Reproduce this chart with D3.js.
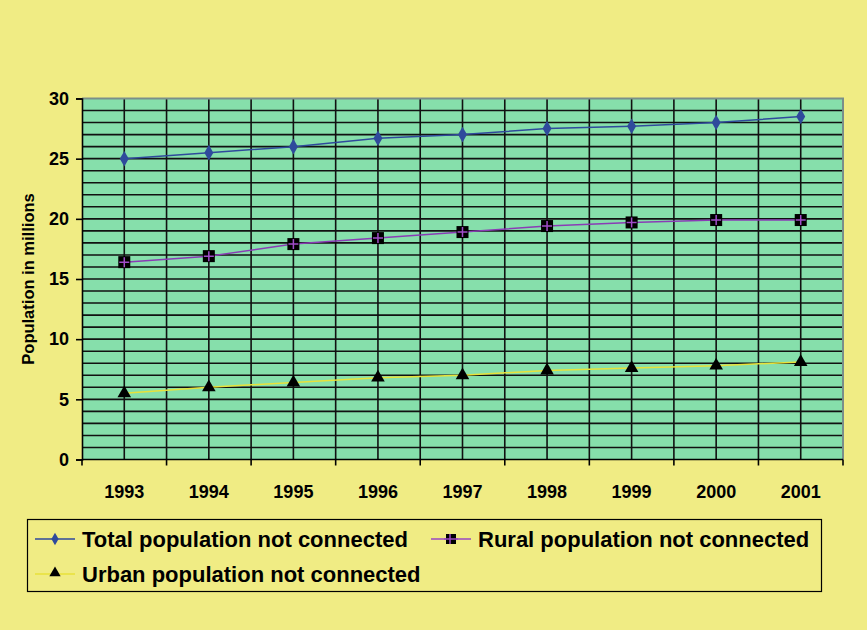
<!DOCTYPE html>
<html>
<head>
<meta charset="utf-8">
<script src="https://cdn.jsdelivr.net/npm/d3@7"></script>
<style>
  body { margin: 0; background: #f0ec84; }
  svg { display: block; }
  text { font-family: Arial, "Liberation Sans", sans-serif; font-weight: bold; }
</style>
</head>
<body>
<script>
    var years = ["1993","1994","1995","1996","1997","1998","1999","2000","2001"];
    var totalPop = [25, 25.5, 26, 26.7, 27, 27.5, 27.7, 28, 28.5];
    var ruralPop = [16.4, 16.9, 17.9, 18.4, 18.9, 19.4, 19.7, 19.9, 19.9];
    var urbanPop = [5.5, 6, 6.4, 6.8, 7, 7.4, 7.6, 7.8, 8.1];
    var yTicks = [0, 5, 10, 15, 20, 25, 30];
    var seriesNames = ["Total population not connected", "Rural population not connected", "Urban population not connected"];

    var W = 867, H = 630;
    var plotL = 82, plotR = 843, plotT = 98.5, plotB = 459.5;

    var svg = d3.select("body").append("svg")
                .attr("width", W)
                .attr("height", H);

    svg.append("rect")
       .attr("x", 0).attr("y", 0).attr("width", W).attr("height", H)
       .attr("fill", "#f0ec84");

    var x = d3.scaleBand().domain(years).range([plotL, plotR]);
    var y = d3.scaleLinear().domain([0, 30]).range([plotB, plotT]);

    // plot background
    svg.append("rect")
       .attr("x", plotL).attr("y", plotT)
       .attr("width", plotR - plotL).attr("height", plotB - plotT)
       .attr("fill", "#86dfab");

    // horizontal grid every 1
    svg.append("g").selectAll("line")
       .data(d3.range(1, 30))
       .enter().append("line")
       .attr("x1", plotL).attr("x2", plotR)
       .attr("y1", function(d) { return y(d); })
       .attr("y2", function(d) { return y(d); })
       .attr("stroke", "#111").attr("stroke-width", 1.6);

    // vertical grid at category centres and boundaries
    var vlines = [];
    years.forEach(function(d, i) {
        vlines.push(x(d) + x.bandwidth() / 2);
        if (i > 0) vlines.push(x(d));
    });
    svg.append("g").selectAll("line")
       .data(vlines)
       .enter().append("line")
       .attr("x1", function(d) { return d; }).attr("x2", function(d) { return d; })
       .attr("y1", plotT).attr("y2", plotB)
       .attr("stroke", "#111").attr("stroke-width", 1.6);

    // grey frame top / right
    svg.append("path")
       .attr("d", "M" + plotL + "," + plotT + "H" + plotR + "V" + plotB)
       .attr("fill", "none").attr("stroke", "#7a8f8a").attr("stroke-width", 2);

    // axes
    var yAxis = d3.axisLeft(y).tickValues(yTicks).tickSize(6).tickPadding(7);
    var gy = svg.append("g").attr("transform", "translate(" + plotL + ",0)").call(yAxis);
    gy.select(".domain").attr("stroke", "#000").attr("stroke-width", 1.6);
    gy.selectAll(".tick line").attr("stroke", "#000").attr("stroke-width", 1.6);
    gy.selectAll("text").attr("font-size", 18).attr("fill", "#000")
      .style("font-family", "Arial, 'Liberation Sans', sans-serif").style("font-weight", "bold");

    var gx = svg.append("g").attr("transform", "translate(0," + plotB + ")");
    gx.append("line").attr("x1", plotL).attr("x2", plotR).attr("stroke", "#000").attr("stroke-width", 1.6);
    gx.selectAll(".bt")
      .data(years.map(function(d) { return x(d); }).concat([plotR]))
      .enter().append("line")
      .attr("x1", function(d) { return d; }).attr("x2", function(d) { return d; })
      .attr("y1", 0).attr("y2", 6)
      .attr("stroke", "#000").attr("stroke-width", 1.6);
    gx.selectAll("text")
      .data(years)
      .enter().append("text")
      .attr("x", function(d) { return x(d) + x.bandwidth() / 2; })
      .attr("y", 38)
      .attr("text-anchor", "middle")
      .attr("font-size", 18)
      .text(function(d) { return d; });

    svg.append("text")
       .attr("transform", "translate(34," + ((plotT + plotB) / 2) + ") rotate(-90)")
       .attr("text-anchor", "middle")
       .attr("font-size", 16.5)
       .text("Population in millions");

    var cx = function(d, i) { return x(years[i]) + x.bandwidth() / 2; };
    var line = d3.line().x(cx).y(function(d) { return y(d); });

    // urban
    svg.append("path").datum(urbanPop).attr("d", line)
       .attr("fill", "none").attr("stroke", "#e8e23a").attr("stroke-width", 1.5);
    svg.append("g").selectAll("path")
       .data(urbanPop).enter().append("path")
       .attr("d", d3.symbol().type(d3.symbolTriangle).size(80))
       .attr("transform", function(d, i) { return "translate(" + cx(d, i) + "," + y(d) + ")"; })
       .attr("fill", "#000");

    // rural
    svg.append("path").datum(ruralPop).attr("d", line)
       .attr("fill", "none").attr("stroke", "#8a3cb6").attr("stroke-width", 1.5);
    var rg = svg.append("g").selectAll("g")
       .data(ruralPop).enter().append("g")
       .attr("transform", function(d, i) { return "translate(" + cx(d, i) + "," + y(d) + ")"; });
    rg.append("rect").attr("x", -6).attr("y", -6).attr("width", 12).attr("height", 12).attr("fill", "#000");
    rg.append("path").attr("d", "M-5,0H5M0,-5V5").attr("stroke", "#a04cc8").attr("stroke-width", 1.5);

    // total
    svg.append("path").datum(totalPop).attr("d", line)
       .attr("fill", "none").attr("stroke", "#2f4a9c").attr("stroke-width", 1.5);
    svg.append("g").selectAll("path")
       .data(totalPop).enter().append("path")
       .attr("d", d3.symbol().type(d3.symbolDiamond).size(70))
       .attr("transform", function(d, i) { return "translate(" + cx(d, i) + "," + y(d) + ")"; })
       .attr("fill", "#2f4a9c");

    // legend
    var lg = svg.append("g");
    lg.append("rect").attr("x", 27.5).attr("y", 519.5).attr("width", 794).attr("height", 72)
      .attr("fill", "none").attr("stroke", "#000").attr("stroke-width", 1.2);

    var legendItems = [
        { name: seriesNames[0], x: 35, y: 539, color: "#2f4a9c", kind: "diamond" },
        { name: seriesNames[1], x: 431, y: 539, color: "#9a48c2", kind: "square" },
        { name: seriesNames[2], x: 35, y: 574, color: "#e8e23a", kind: "triangle" }
    ];
    var li = lg.selectAll(".li").data(legendItems).enter().append("g")
       .attr("transform", function(d) { return "translate(" + d.x + "," + d.y + ")"; });
    li.append("line").attr("x1", 0).attr("x2", 40)
      .attr("stroke", function(d) { return d.color; }).attr("stroke-width", 1.5);
    li.each(function(d) {
        var g = d3.select(this);
        if (d.kind === "diamond") {
            g.append("path").attr("d", d3.symbol().type(d3.symbolDiamond).size(45))
             .attr("transform", "translate(20,0)").attr("fill", d.color);
        } else if (d.kind === "square") {
            g.append("rect").attr("x", 15).attr("y", -5).attr("width", 10).attr("height", 10).attr("fill", "#000");
            g.append("path").attr("d", "M13,0H27M19,-5V5").attr("stroke", d.color).attr("stroke-width", 1.5);
        } else {
            g.append("path").attr("d", d3.symbol().type(d3.symbolTriangle).size(55))
             .attr("transform", "translate(20,-1)").attr("fill", "#000");
        }
    });
    li.append("text").attr("x", 47).attr("y", 8)
      .attr("font-size", 22)
      .text(function(d) { return d.name; });
</script>
</body>
</html>
